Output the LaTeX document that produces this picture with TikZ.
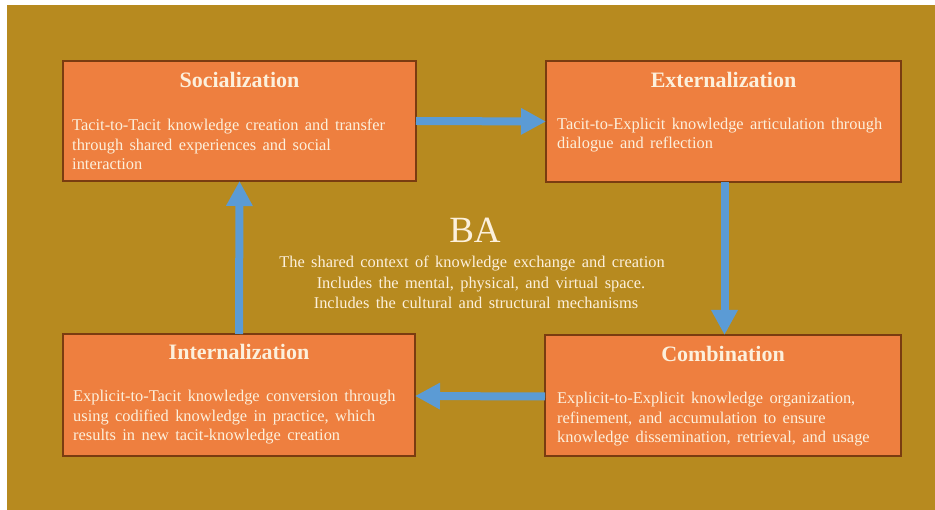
\documentclass[tikz,border=0pt]{standalone}
\usepackage{fontspec}
\setmainfont{Liberation Serif}
\usetikzlibrary{arrows.meta}

\definecolor{gold}{HTML}{B78A1F}
\definecolor{boxfill}{HTML}{EE7F3F}
\definecolor{boxline}{HTML}{7A3C10}
\definecolor{flow}{HTML}{5B9BD5}
\definecolor{cream}{HTML}{FCF0DC}

\newcommand\bodytext{\fontsize{16.4}{19.5}\selectfont\spaceskip=0.39em plus 0.05em minus 0.05em\relax}
\newcommand\headtext{\fontsize{22}{26}\selectfont\bfseries}

\tikzset{
  stagebox/.style={draw=boxline, line width=1.3pt, fill=boxfill, rectangle,
    anchor=north west, inner sep=0pt, outer sep=0pt},
  stagetitle/.style={text=cream, font=\headtext, anchor=base, inner sep=0pt},
  % the base anchor of a multi-line text sits on its last line
  stagebody/.style={text=cream, font=\bodytext, align=left, anchor=base west, inner sep=0pt},
  centerline/.style={text=cream, font=\bodytext, anchor=base, inner sep=0pt},
  flowarrow/.style={draw=flow, line width=8pt,
    -{Triangle[length=25pt,width=25pt]}, shorten >=0pt}
}

\begin{document}
\begin{tikzpicture}[x=1pt,y=-1pt]
  % page and gold backdrop
  \useasboundingbox (0,0) rectangle (935,510);
  \fill[white] (0,0) rectangle (935,510);
  \fill[gold] (7,5) rectangle (935,510);

  % the four knowledge-conversion stages
  \node[stagebox, minimum width=353pt, minimum height=120pt] (soc) at (63,61) {};
  \node[stagebox, minimum width=355pt, minimum height=121pt] (ext) at (546,61) {};
  \node[stagebox, minimum width=352pt, minimum height=122pt] (int) at (63,334) {};
  \node[stagebox, minimum width=356pt, minimum height=121pt] (comb) at (545,335) {};

  % headings
  \node[stagetitle] (socT) at ([yshift=-26.5pt]soc.north) {Socialization};
  \node[stagetitle] (extT) at ([yshift=-26.5pt]ext.north) {Externalization};
  \node[stagetitle] (intT) at ([yshift=-26pt]int.north) {Internalization};
  \node[stagetitle] (combT) at ([yshift=-26.5pt]comb.north) {Combination};

  % descriptions (shift = first baseline + further lines)
  \node[stagebody] (socB) at ([xshift=9pt,yshift=-109pt]soc.north west)
    {Tacit-to-Tacit knowledge creation and transfer\\through shared experiences and social\\interaction};
  \node[stagebody] (extB) at ([xshift=11pt,yshift=-88pt]ext.north west)
    {Tacit-to-Explicit knowledge articulation through\\dialogue and reflection};
  \node[stagebody] (intB) at ([xshift=10pt,yshift=-107pt]int.north west)
    {Explicit-to-Tacit knowledge conversion through\\using codified knowledge in practice, which\\results in new tacit-knowledge creation};
  \node[stagebody] (combB) at ([xshift=12pt,yshift=-108pt]comb.north west)
    {Explicit-to-Explicit knowledge organization,\\refinement, and accumulation to ensure\\knowledge dissemination, retrieval, and usage};

  % BA in the middle
  \node[text=cream, font=\fontsize{37}{40}\selectfont, anchor=base, inner sep=0pt] (ba) at (475,243) {BA};
  \node[centerline] (ctx1) at (472,268) {The shared context of knowledge exchange and creation};
  \node[centerline] (ctx2) at (481,289) {Includes the mental, physical, and virtual space.};
  \node[centerline] (ctx3) at (476,309) {Includes the cultural and structural mechanisms};

  % the cycle
  \draw[flowarrow] (soc.east) -- (ext.west);
  \draw[flowarrow] ([xshift=1pt]ext.south) -- ([xshift=1pt]comb.north -| ext.south);
  \draw[flowarrow] ([yshift=-1pt]comb.west) -- ([yshift=-1pt]int.east);
  \draw[flowarrow] (int.north) -- (soc.south);
\end{tikzpicture}
\end{document}
